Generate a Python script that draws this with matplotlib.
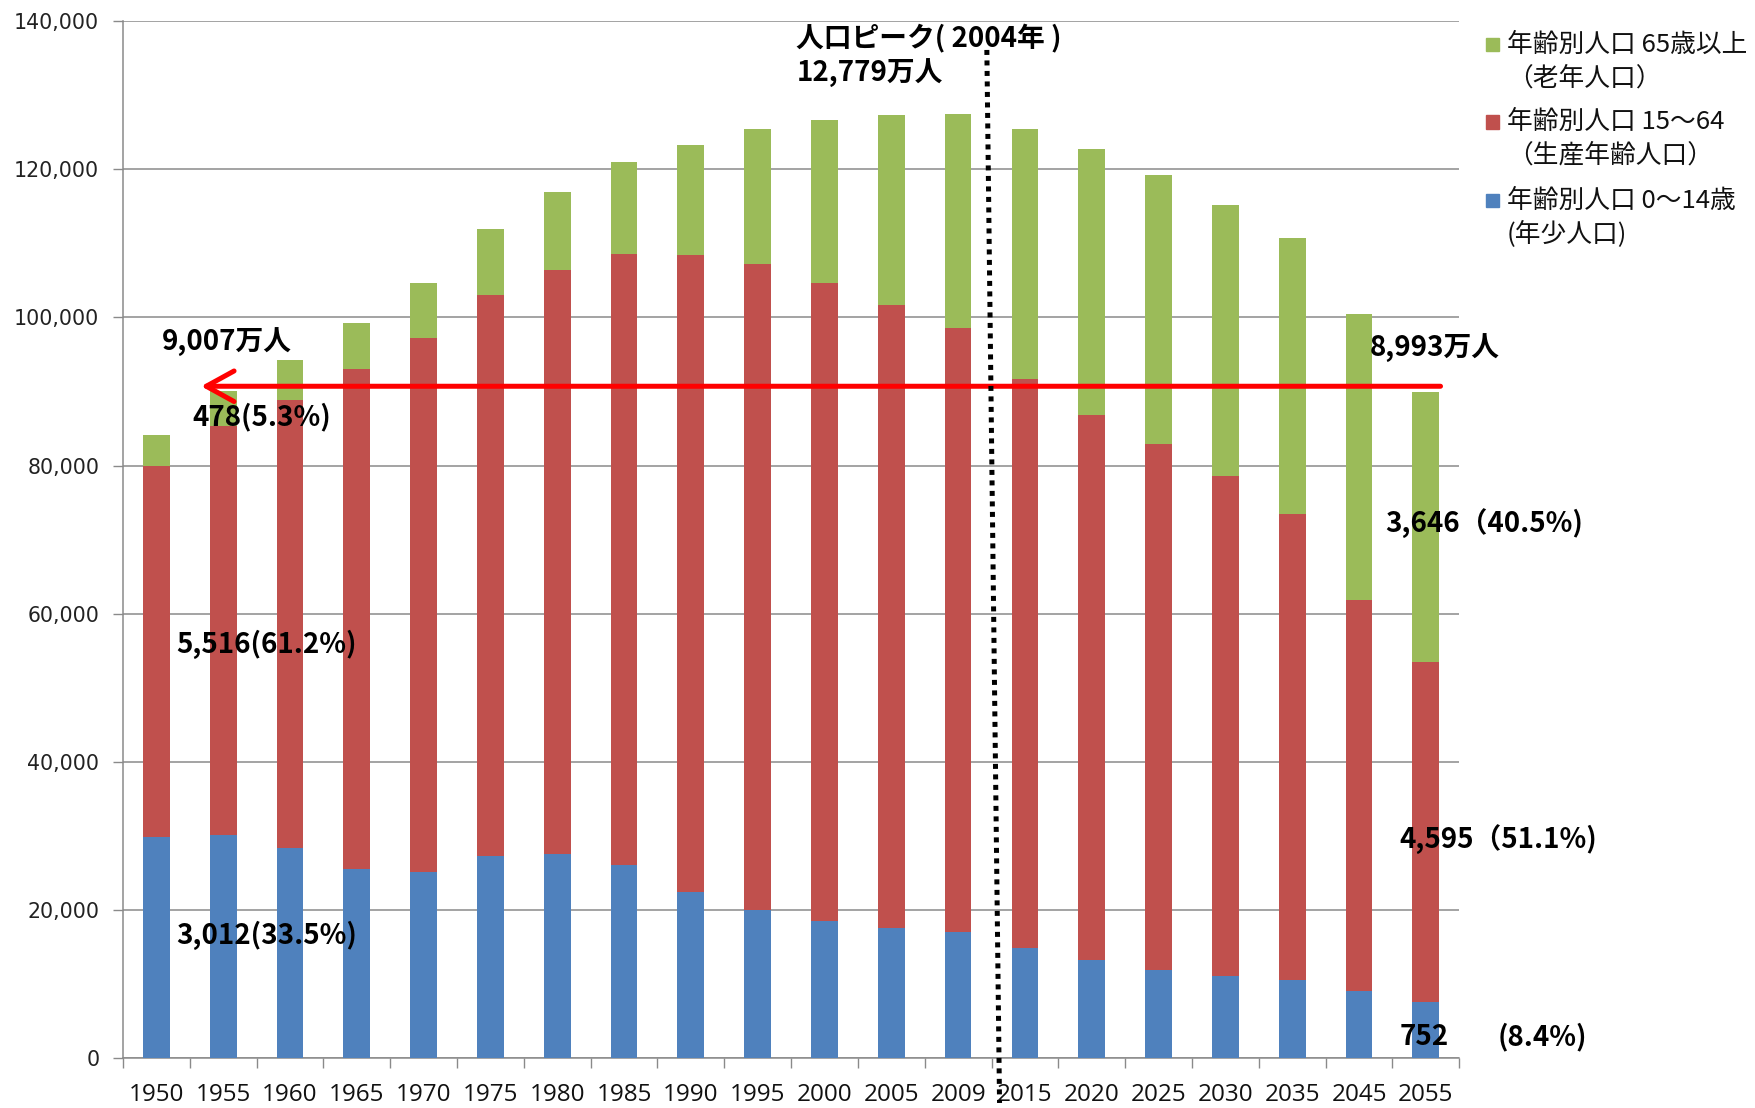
import matplotlib
matplotlib.use("Agg")
import matplotlib.pyplot as plt
from matplotlib.patches import Rectangle
import numpy as np

years = ["1950", "1955", "1960", "1965", "1970", "1975", "1980", "1985", "1990", "1995",
         "2000", "2005", "2009", "2015", "2020", "2025", "2030", "2035", "2045", "2055"]
age_0_14 = [29786, 30123, 28434, 25529, 25153, 27221, 27507, 26033, 22486, 20014,
            18472, 17521, 17011, 14841, 13201, 11956, 11150, 10512, 9036, 7516]
age_15_64 = [50168, 55167, 60469, 67444, 72119, 75807, 78835, 82506, 85904, 87165,
             86220, 84092, 81493, 76807, 73635, 70960, 67404, 62919, 52875, 45951]
age_65 = [4155, 4786, 5398, 6236, 7393, 8865, 10647, 12468, 14895, 18261,
          22005, 25672, 29005, 33781, 35899, 36354, 36670, 37249, 38564, 36463]
arrow_level = 90700

legend_lines = [["年齢別人口 65歳以上", "（老年人口）"],
                ["年齢別人口 15～64", "（生産年齢人口）"],
                ["年齢別人口 0～14歳", "(年少人口)"]]
y_ticks = [0, 20000, 40000, 60000, 80000, 100000, 120000, 140000]

c_blue = "#4F81BD"
c_red = "#C0504D"
c_green = "#9BBB59"
grid_c = "#8A8A8A"

W, H = 1756, 1108
fig = plt.figure(figsize=(W / 100, H / 100), dpi=100)
ax = fig.add_axes([0.070, 0.045, 0.761, 0.936])

n = len(years)
x = np.arange(n)
a0 = np.array(age_0_14)
a1 = np.array(age_15_64)
a2 = np.array(age_65)
w = 0.40
ax.bar(x, a0, w, color=c_blue, zorder=3)
ax.bar(x, a1, w, bottom=a0, color=c_red, zorder=3)
ax.bar(x, a2, w, bottom=a0 + a1, color=c_green, zorder=3)

ax.set_xlim(-0.5, n - 0.5)
ax.set_ylim(0, 140000)
ax.set_yticks(y_ticks)
ax.set_yticklabels([f"{v:,}" for v in y_ticks], family="DejaVu Sans", fontsize=14.8, color="#222222")
ax.set_xticks(x)
ax.set_xticklabels(years, family="Open Sans", fontsize=17.5, color="#111111")
ax.set_xticks(np.arange(-0.5, n, 1.0), minor=True)
ax.tick_params(axis="x", which="major", length=0, pad=18)
ax.tick_params(axis="x", which="minor", length=7, width=1, color=grid_c)
ax.tick_params(axis="y", length=7, width=1, color=grid_c, pad=10)
ax.grid(axis="y", color=grid_c, lw=1.1, zorder=0)
for s in ["top", "right"]:
    ax.spines[s].set_visible(False)
for s in ["left", "bottom"]:
    ax.spines[s].set_color(grid_c)
    ax.spines[s].set_linewidth(1.1)

# red arrow
ax.annotate("", xy=(0.67, arrow_level), xytext=(n - 1 + w / 2 + 0.02, arrow_level),
            arrowprops=dict(arrowstyle="->,head_length=1.0,head_width=0.55", color="#FF0000",
                            lw=3.6, shrinkA=0, shrinkB=0, mutation_scale=20,
                            capstyle="round", joinstyle="round"),
            zorder=5)

# dotted peak line
ax.plot([12.43, 12.62], [136100, -6050], ls=(0, (1, 1.1)), lw=3.6, color="black",
        clip_on=False, zorder=6, solid_capstyle="butt", dash_capstyle="butt")

jp = ["Noto Sans CJK JP"]
tk = dict(family=jp, fontsize=20, fontweight="bold", color="black", va="center", ha="left", zorder=7)
ax.text(9.58, 137600, "人口ピーク( 2004年 )", **tk)
ax.text(9.58, 132900, "12,779万人", **tk)
ax.text(0.09, 96600, "9,007万人", **tk)
ax.text(0.54, 86600, "478(5.3%)", **tk)
ax.text(0.30, 55900, "5,516(61.2%)", **tk)
ax.text(0.30, 16600, "3,012(33.5%)", **tk)
ax.text(18.16, 95800, "8,993万人", **tk)
ax.text(18.39, 72300, "3,646（40.5%)", **tk)
ax.text(18.61, 29600, "4,595（51.1%)", **tk)
ax.text(18.61, 2900, "752", **tk)
ax.text(20.07, 2900, "(8.4%)", **tk)

# legend drawn manually (square aligned with first line of each entry)
line_y = [[44.8, 78.4], [122.0, 155.7], [200.5, 234.0]]
colors = [c_green, c_red, c_blue]
for (l1, l2), (y1, y2), c in zip(legend_lines, line_y, colors):
    fig.patches.append(Rectangle((1486 / W, 1 - (y1 + 6.5) / H), 13 / W, 13 / H,
                                 transform=fig.transFigure, color=c, figure=fig))
    fig.text(1507 / W, 1 - y1 / H, l1, family=jp, fontsize=18.5, va="center", ha="left", color="#111111")
    fig.text(1507 / W, 1 - y2 / H, l2, family=jp, fontsize=18.5, va="center", ha="left", color="#111111")

fig.savefig("out.png", dpi=100)
